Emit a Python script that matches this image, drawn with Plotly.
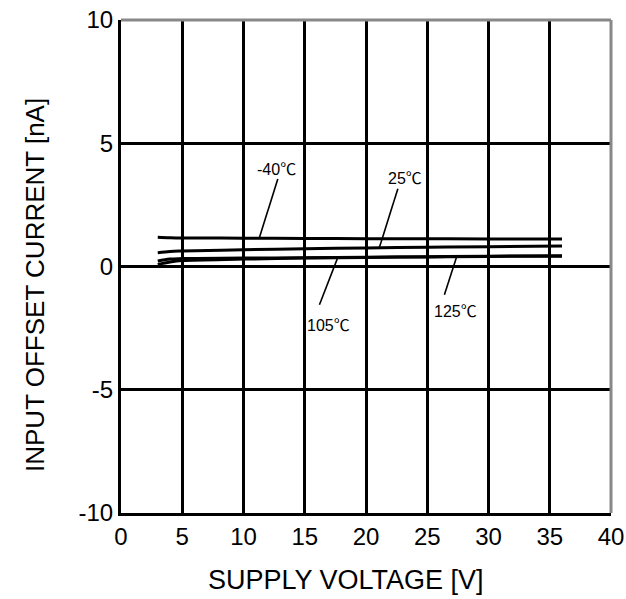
import plotly.graph_objects as go

voltage = [3, 4, 5, 10, 15, 20, 25, 30, 36]
i_m40 = [1.19, 1.17, 1.16, 1.15, 1.14, 1.13, 1.13, 1.12, 1.12]
i_25 = [0.56, 0.61, 0.63, 0.68, 0.72, 0.75, 0.78, 0.80, 0.83]
i_105 = [0.22, 0.30, 0.32, 0.34, 0.36, 0.38, 0.40, 0.42, 0.44]
i_125 = [0.08, 0.18, 0.24, 0.30, 0.34, 0.37, 0.39, 0.41, 0.42]

labels = ["-40", "25", "105", "125"]
label_pos = [(12.7, 4.0), (23.2, 3.65), (16.9, -2.35), (27.3, -1.75)]
leader = [((12.8, 3.55), (11.3, 1.18)), ((22.6, 3.15), (21.1, 0.78)),
          ((16.2, -1.55), (17.7, 0.37)), ((26.4, -1.15), (27.4, 0.40))]

xticks = [0, 5, 10, 15, 20, 25, 30, 35, 40]
yticks = [-10, -5, 0, 5, 10]
yticktext = ["-10", "-5", "0", "5", "10"]
x_title = "SUPPLY VOLTAGE [V]"
y_title = "INPUT OFFSET CURRENT [nA]"

fig = go.Figure()
for ys in [i_m40, i_25, i_105, i_125]:
    fig.add_trace(go.Scatter(x=voltage, y=ys, mode="lines",
                             line=dict(color="black", width=3, shape="spline"),
                             showlegend=False, hoverinfo="skip"))

for (a, b) in leader:
    fig.add_trace(go.Scatter(x=[a[0], b[0]], y=[a[1], b[1]], mode="lines",
                             line=dict(color="black", width=1.6),
                             showlegend=False, hoverinfo="skip"))

for txt, (x, y) in zip(labels, label_pos):
    fig.add_annotation(x=x, y=y,
                       text=txt + "<span style='font-family:Noto Sans CJK JP'>℃</span>",
                       showarrow=False,
                       font=dict(family="Liberation Sans, Arial", size=16, color="black"))

# axis titles
fig.add_annotation(xref="paper", yref="paper", x=0.46, y=0, yshift=-67,
                   text=x_title, showarrow=False, xanchor="center", yanchor="middle",
                   font=dict(size=27))
fig.add_annotation(xref="paper", yref="paper", x=0, xshift=-86, y=0.4625,
                   text=y_title, showarrow=False, textangle=-90,
                   xanchor="center", yanchor="middle", font=dict(size=26))

# grey top/right border
fig.add_shape(type="line", xref="paper", yref="paper", x0=0, x1=1, y0=1, y1=1,
              line=dict(color="#888888", width=3), layer="above")
fig.add_shape(type="line", xref="paper", yref="paper", x0=1, x1=1, y0=0, y1=1,
              line=dict(color="#888888", width=3), layer="above")

fig.update_layout(
    width=626, height=599,
    margin=dict(l=121, r=15, t=20, b=86),
    plot_bgcolor="white", paper_bgcolor="white",
    font=dict(family="Liberation Sans, Arial", size=24, color="black"),
    xaxis=dict(range=[0, 40], tickvals=xticks, ticks="", showgrid=True,
               gridcolor="black", gridwidth=3, zeroline=False, automargin=False,
               showline=True, linecolor="black", linewidth=3,
               tickfont=dict(size=24)),
    yaxis=dict(range=[-10, 10], tickvals=yticks, ticktext=yticktext, ticks="",
               showgrid=True, gridcolor="black", gridwidth=3, zeroline=True,
               zerolinecolor="black", zerolinewidth=3, showline=True, automargin=False,
               linecolor="black", linewidth=3,
               tickfont=dict(size=24)),
)

fig.write_html("out.html", config={"displayModeBar": False},
               post_script="document.body.style.margin='0';")
